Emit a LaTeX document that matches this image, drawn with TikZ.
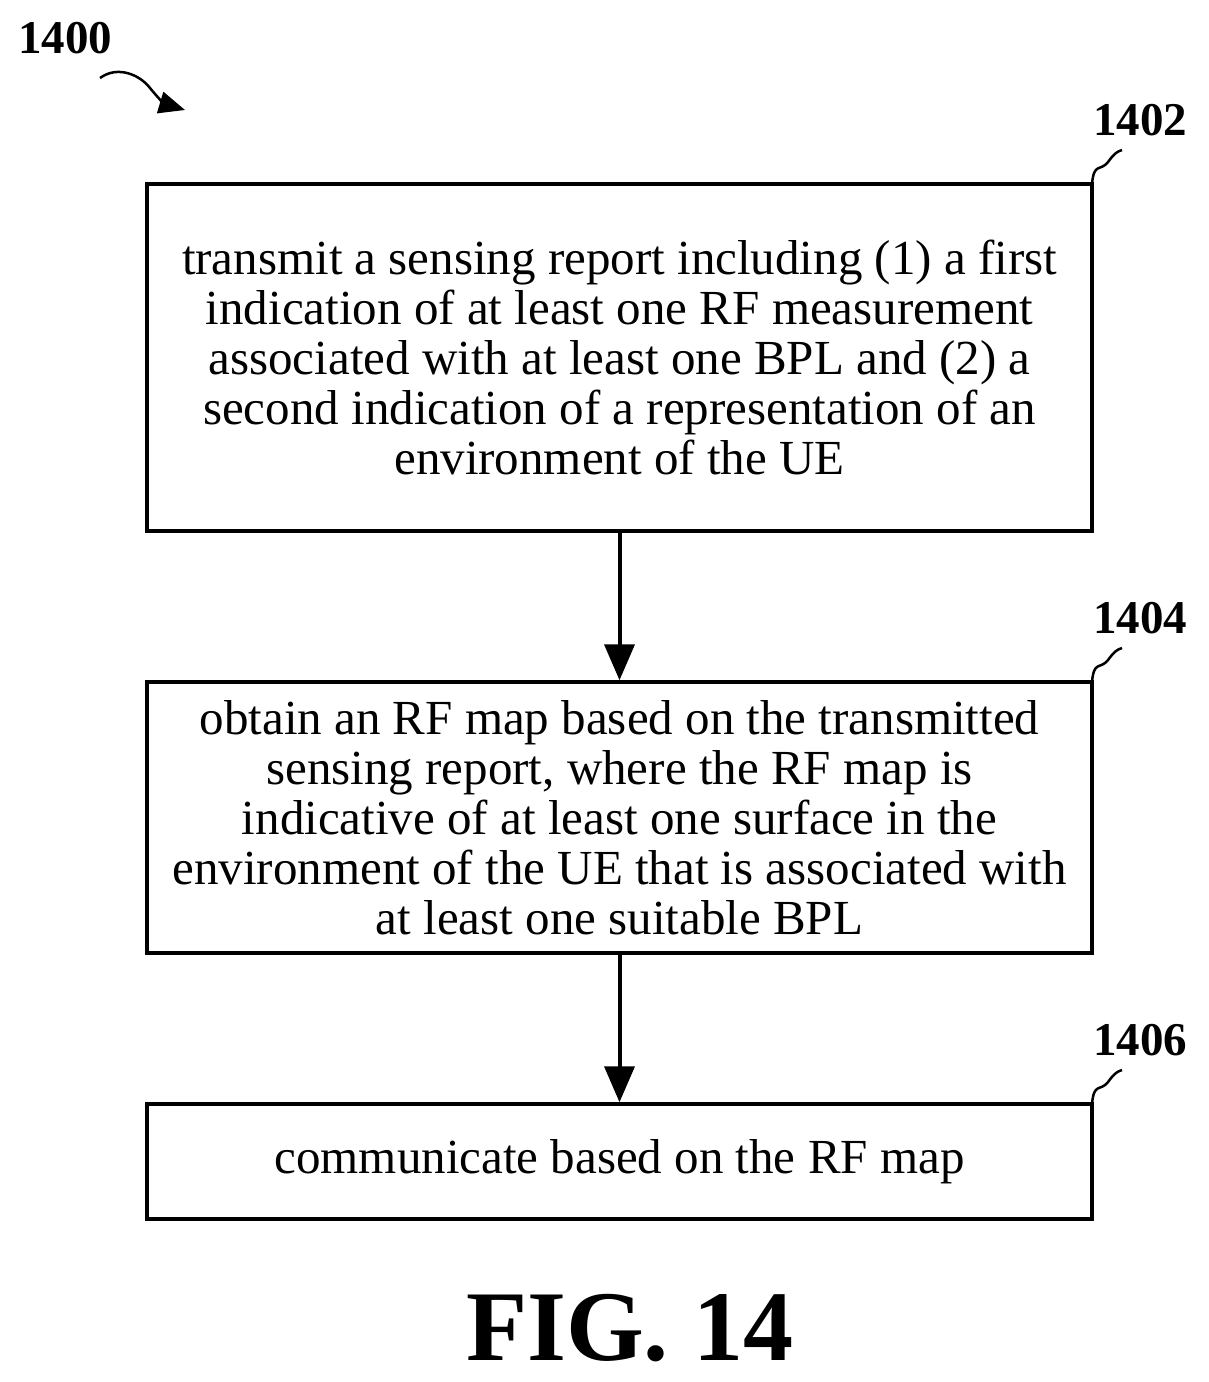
\documentclass[tikz,border=0pt]{standalone}
\usepackage{fontspec}
\setmainfont{Liberation Serif}
\usetikzlibrary{arrows.meta}
\begin{document}
\begin{tikzpicture}[x=1pt,y=-1pt,
  box/.style={draw,line width=3.5pt,minimum width=945pt,align=center,font=\fontsize{49}{50}\selectfont,inner sep=0pt},
  lab/.style={font=\bfseries\fontsize{47}{50}\selectfont},
  arr/.style={line width=4pt,-{Triangle[length=36pt,width=30pt]}},
  lead/.style={line width=2.5pt}]
\useasboundingbox (0,0) rectangle (1209,1382);
\node[box,minimum height=347pt] (b1) at (619.5,357.5) {transmit a sensing report including (1) a first\\indication of at least one RF measurement\\associated with at least one BPL and (2) a\\second indication of a representation of an\\environment of the UE};
\node[box,minimum height=271pt] (b2) at (619.5,817.5) {obtain an RF map based on the transmitted\\sensing report, where the RF map is\\indicative of at least one surface in the\\environment of the UE that is associated with\\at least one suitable BPL};
\node[box,minimum height=115pt] (b3) at (619.5,1161.5) {communicate based on the RF map};
\draw[arr] (b1.south) -- (b2.north);
\draw[arr] (b2.south) -- (b3.north);
\node[lab] (l1) at (1140,120) {1402};
\node[lab] (l2) at (1140,618) {1404};
\node[lab] (l3) at (1140,1040) {1406};
\node[lab] (l0) at (65,38) {1400};
\coordinate (c1) at (1092,184);
\coordinate (c2) at (1092,682);
\coordinate (c3) at (1092,1104);
\foreach \c/\y in {c1/184,c2/682,c3/1104}
  \draw[lead] (\c) .. controls (1094,\y-22) and (1100,\y-12) .. (1108,\y-22) .. controls (1114,\y-30) and (1116,\y-32) .. (1122,\y-34);
\coordinate (a0) at (100,78);
\coordinate (a1) at (185,110);
\draw[line width=2.5pt,-{Triangle[length=26pt,width=22pt]}] (a0) .. controls (118,65) and (140,75) .. (150,88) .. controls (158,98) and (165,104) .. (a1);
\node[font=\bfseries\fontsize{100}{100}\selectfont] (fig) at (630,1328) {FIG. 14};
\end{tikzpicture}
\end{document}
